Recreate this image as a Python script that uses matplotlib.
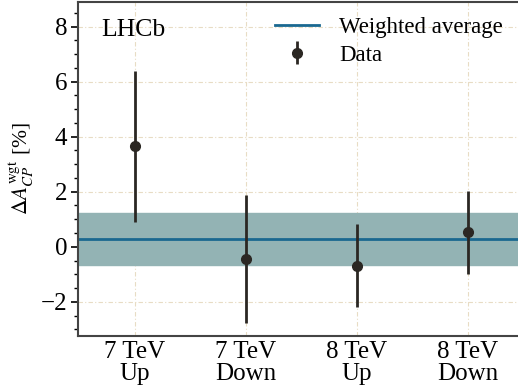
import matplotlib
matplotlib.use('Agg')
import matplotlib.pyplot as plt
from matplotlib.ticker import AutoMinorLocator, MultipleLocator

labels = ['7 TeV\nUp', '7 TeV\nDown', '8 TeV\nUp', '8 TeV\nDown']
values = [3.65, -0.45, -0.69, 0.52]
errors = [2.75, 2.33, 1.5, 1.5]
avg = 0.29
avg_err = 0.94

plt.rc('font', family='Liberation Serif', size=18)
plt.rc('mathtext', fontset='stix')

fig = plt.figure(figsize=(5.18, 3.91), dpi=100)
ax = fig.add_axes([0.151, 0.141, 0.849, 0.854])

x = list(range(len(values)))
ax.axhspan(avg - avg_err, avg + avg_err, color='#93b3b4', zorder=1)
ax.axhline(avg, color='#1a6890', lw=2, zorder=2, label='Weighted average')
ax.errorbar(x, values, yerr=errors, fmt='o', color='#2b2723', ms=7, elinewidth=2,
            capsize=0, zorder=3, label='Data')

ax.set_xlim(-0.51, 3.45)
ax.set_ylim(-3.24, 8.9)
ax.set_xticks(x)
ax.set_xticklabels(labels, linespacing=0.95)
ax.yaxis.set_major_locator(MultipleLocator(2))
ax.yaxis.set_minor_locator(AutoMinorLocator(4))
ax.tick_params(axis='x', length=0, pad=4)
ax.tick_params(axis='y', which='major', length=5, width=1.2, direction='out', pad=3)
ax.tick_params(axis='y', which='minor', length=3, width=1, direction='out')
ax.grid(True, ls=(0, (4, 2, 1, 2)), color='#e8dcc4', lw=0.8, zorder=0)
ax.set_axisbelow(True)
for s in ['left', 'bottom', 'top']:
    ax.spines[s].set_linewidth(1.5)
    ax.spines[s].set_color('#444444')
ax.spines['right'].set_visible(False)

ax.set_ylabel(r'$\Delta A_{CP}^{\rm wgt}$ [%]', fontsize=15.5)
ax.yaxis.set_label_coords(-0.095, 0.5)
ax.text(0.052, 0.95, 'LHCb', transform=ax.transAxes, fontsize=18.5, va='top')
ax.legend(loc='upper right', frameon=False, fontsize=16.5, handlelength=1.9,
          borderaxespad=0.25, labelspacing=0.3, handletextpad=0.9)

plt.savefig('out.png', dpi=100)
